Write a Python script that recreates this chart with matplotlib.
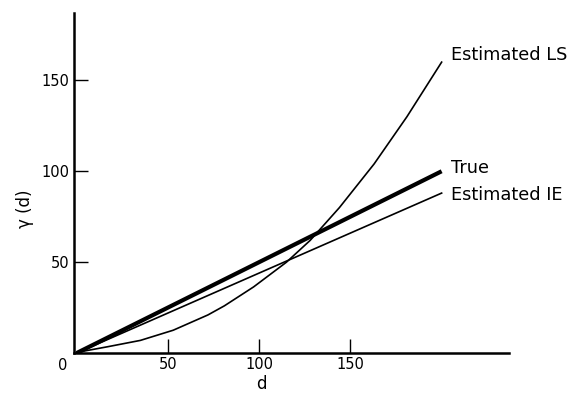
import matplotlib
matplotlib.use("Agg")
import matplotlib.pyplot as plt

# Data
d_true = [0, 200]
y_true = [0, 100]

d_ls = [0, 4, 17, 35, 53, 72, 81, 97, 115, 128, 144, 163, 181, 200]
y_ls = [0, 1.1, 3.5, 7, 12.6, 21, 26, 36.4, 50, 62, 80, 104, 130, 160]

d_ie = [0, 50, 100, 150, 200]
y_ie = [0, 22, 44, 66, 88]

xticks = [50, 100, 150]
yticks = [50, 100, 150]

fig = plt.figure(figsize=(5.76, 3.95), dpi=100)
ax = fig.add_axes([0.128, 0.106, 0.756, 0.861])

ax.plot(d_ls, y_ls, color="black", lw=1.2, solid_joinstyle="round")
ax.plot(d_ie, y_ie, color="black", lw=1.2)
ax.plot(d_true, y_true, color="black", lw=3.0, solid_capstyle="butt")

ax.set_xlim(-1.5, 237)
ax.set_ylim(0, 187)

for s in ["top", "right"]:
    ax.spines[s].set_visible(False)
for s in ["left", "bottom"]:
    ax.spines[s].set_linewidth(1.8)

ax.set_xticks(xticks)
ax.set_yticks(yticks)
ax.set_xticklabels([str(v) for v in xticks])
ax.set_yticklabels([str(v) for v in yticks])
ax.tick_params(axis="both", direction="in", length=10, width=1.0, labelsize=10.5, pad=3)

ax.text(-7.7, -6.6, "0", ha="center", va="center", fontsize=10.5, clip_on=False)

ax.set_xlabel("d", fontsize=12)
ax.xaxis.label.set_va("center")
ax.xaxis.set_label_coords(0.432, -0.092)
ax.set_ylabel("γ (d)", fontsize=12)
ax.yaxis.label.set_va("center")
ax.yaxis.set_label_coords(-0.113, 0.424)

ax.text(205, 164, "Estimated LS", fontsize=12.8, ha="left", va="center")
ax.text(205, 102, "True", fontsize=12.8, ha="left", va="center")
ax.text(205, 87, "Estimated IE", fontsize=12.8, ha="left", va="center")

fig.savefig("out.png", dpi=100)
